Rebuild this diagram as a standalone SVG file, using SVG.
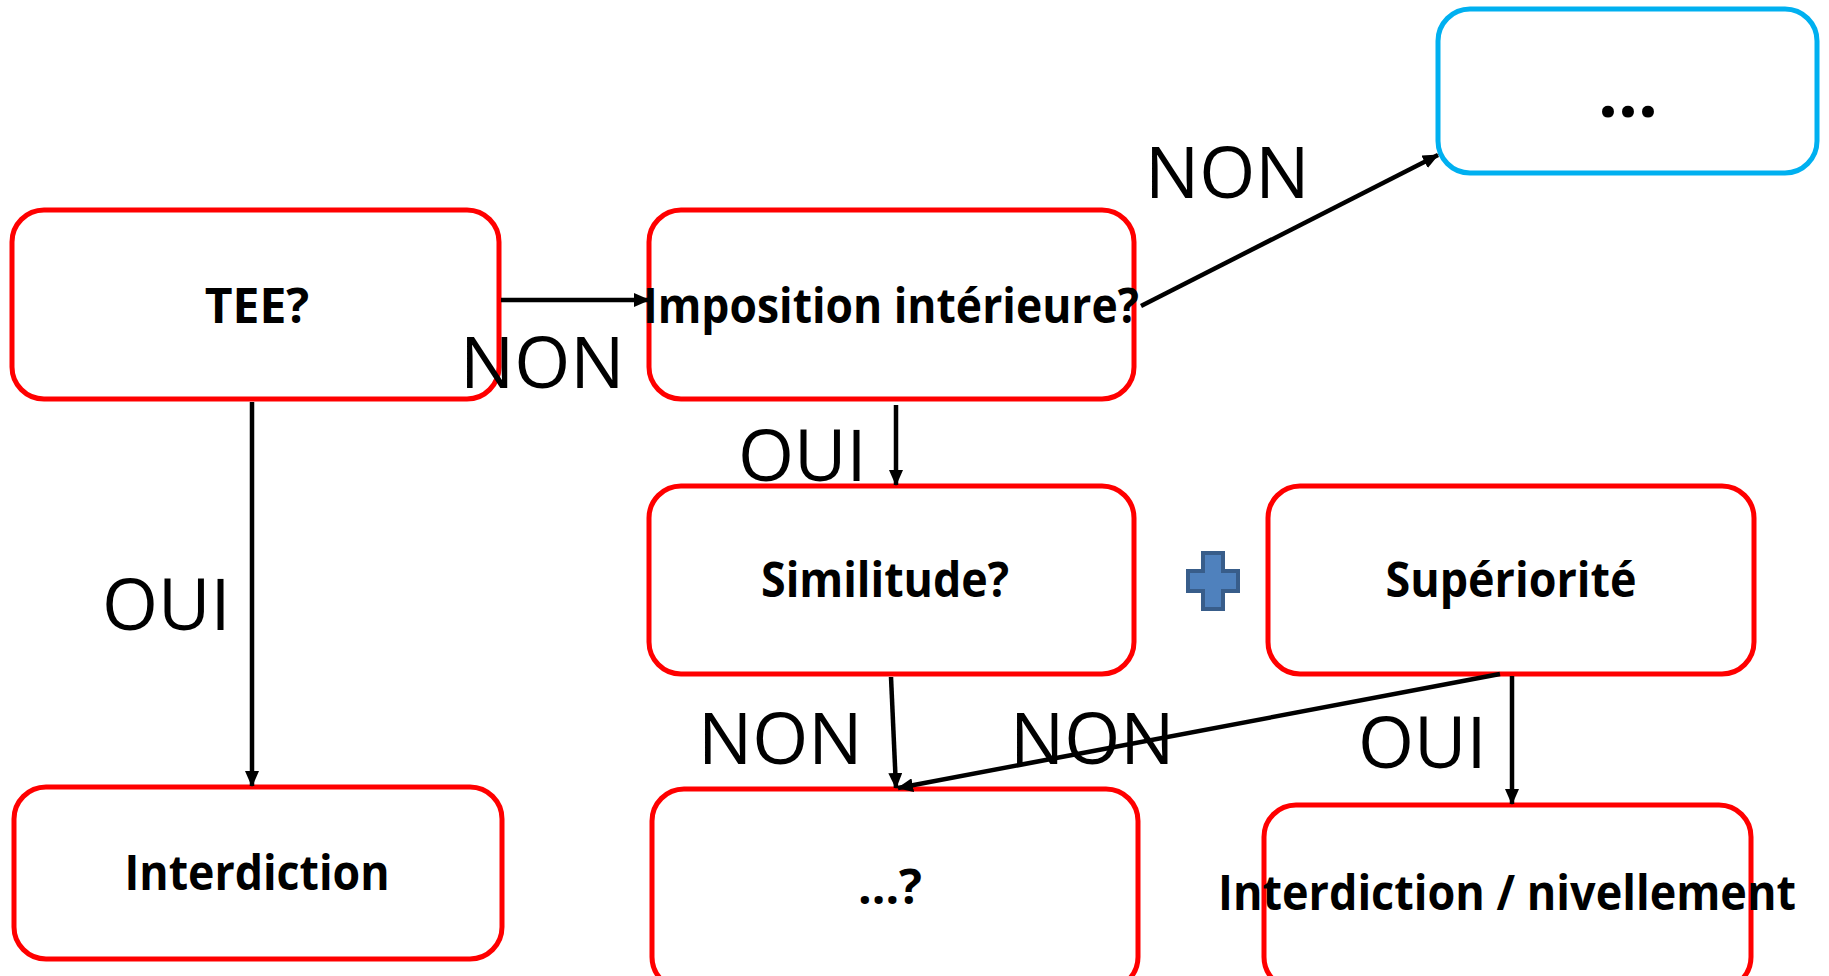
<svg xmlns="http://www.w3.org/2000/svg" width="1829" height="976" viewBox="0 0 1829 976">
  <style>
    .box { fill: #ffffff; stroke: #ff0000; stroke-width: 5; }
    .box-blue { fill: #ffffff; stroke: #00b0f0; stroke-width: 5; }
    .title { font-family: "Open Sans", "Noto Sans", "Liberation Sans", sans-serif; font-weight: 700; font-size: 48px; fill: #000000; text-anchor: middle; }
    .dots { font-size: 70px; }
    .label { font-family: "Open Sans", "Noto Sans", "Liberation Sans", sans-serif; font-weight: 400; font-size: 72px; fill: #000000; }
    .edge { fill: none; stroke: #000000; stroke-width: 4.5; marker-end: url(#arrow); }
  </style>
  <defs>
    <marker id="arrow" markerUnits="userSpaceOnUse" markerWidth="16" markerHeight="14" refX="15" refY="7" orient="auto">
      <path d="M0,0 L16,7 L0,14 Z" fill="#000000"/>
    </marker>
  </defs>

  <rect width="1829" height="976" fill="#ffffff"/>

  <!-- decision boxes -->
  <g id="node-tee">
    <rect class="box" x="12" y="210" width="487" height="189" rx="32"/>
    <text class="title" x="257" y="323">TEE?</text>
  </g>
  <g id="node-imposition">
    <rect class="box" x="649" y="210" width="485" height="189" rx="32"/>
    <text class="title" x="891" y="323" textLength="496" lengthAdjust="spacingAndGlyphs">Imposition intérieure?</text>
  </g>
  <g id="node-autre">
    <rect class="box-blue" x="1438" y="9" width="379" height="164" rx="32"/>
    <text class="title dots" x="1628" y="117">...</text>
  </g>
  <g id="node-similitude">
    <rect class="box" x="649" y="486" width="485" height="188" rx="32"/>
    <text class="title" x="885" y="597" textLength="248" lengthAdjust="spacingAndGlyphs">Similitude?</text>
  </g>
  <g id="node-superiorite">
    <rect class="box" x="1268" y="486" width="486" height="188" rx="32"/>
    <text class="title" x="1511" y="597" textLength="251" lengthAdjust="spacingAndGlyphs">Supériorité</text>
  </g>
  <g id="node-interdiction">
    <rect class="box" x="14" y="787" width="488" height="172" rx="32"/>
    <text class="title" x="257" y="890" textLength="265" lengthAdjust="spacingAndGlyphs">Interdiction</text>
  </g>
  <g id="node-question">
    <rect class="box" x="652" y="789" width="486" height="200" rx="32"/>
    <text class="title" x="890" y="904">...?</text>
  </g>
  <g id="node-nivellement">
    <rect class="box" x="1264" y="805" width="487" height="184" rx="32"/>
    <text class="title" x="1507" y="910" textLength="578" lengthAdjust="spacingAndGlyphs">Interdiction / nivellement</text>
  </g>

  <!-- plus sign between the two criteria -->
  <g id="plus">
    <path d="M1203,553 H1223 V571 H1238 V591 H1223 V609 H1203 V591 H1188 V571 H1203 Z" fill="#4f81bd" stroke="#385d8a" stroke-width="4"/>
  </g>

  <!-- connectors -->
  <g id="connectors">
    <line class="edge" x1="501" y1="300" x2="649" y2="300"/>
    <line class="edge" x1="252" y1="402" x2="252" y2="786"/>
    <line class="edge" x1="1141" y1="306" x2="1438" y2="155"/>
    <line class="edge" x1="896" y1="405" x2="896" y2="485"/>
    <line class="edge" x1="891" y1="677" x2="896" y2="788"/>
    <line class="edge" x1="1500" y1="674" x2="898" y2="788"/>
    <line class="edge" x1="1512" y1="676" x2="1512" y2="804"/>
  </g>

  <!-- branch labels -->
  <g id="labels">
    <text class="label" x="460" y="388">NON</text>
    <text class="label" x="1145" y="198">NON</text>
    <text class="label" x="102" y="630">OUI</text>
    <text class="label" x="738" y="481">OUI</text>
    <text class="label" x="698" y="764">NON</text>
    <text class="label" x="1010" y="764">NON</text>
    <text class="label" x="1358" y="768">OUI</text>
  </g>
</svg>
